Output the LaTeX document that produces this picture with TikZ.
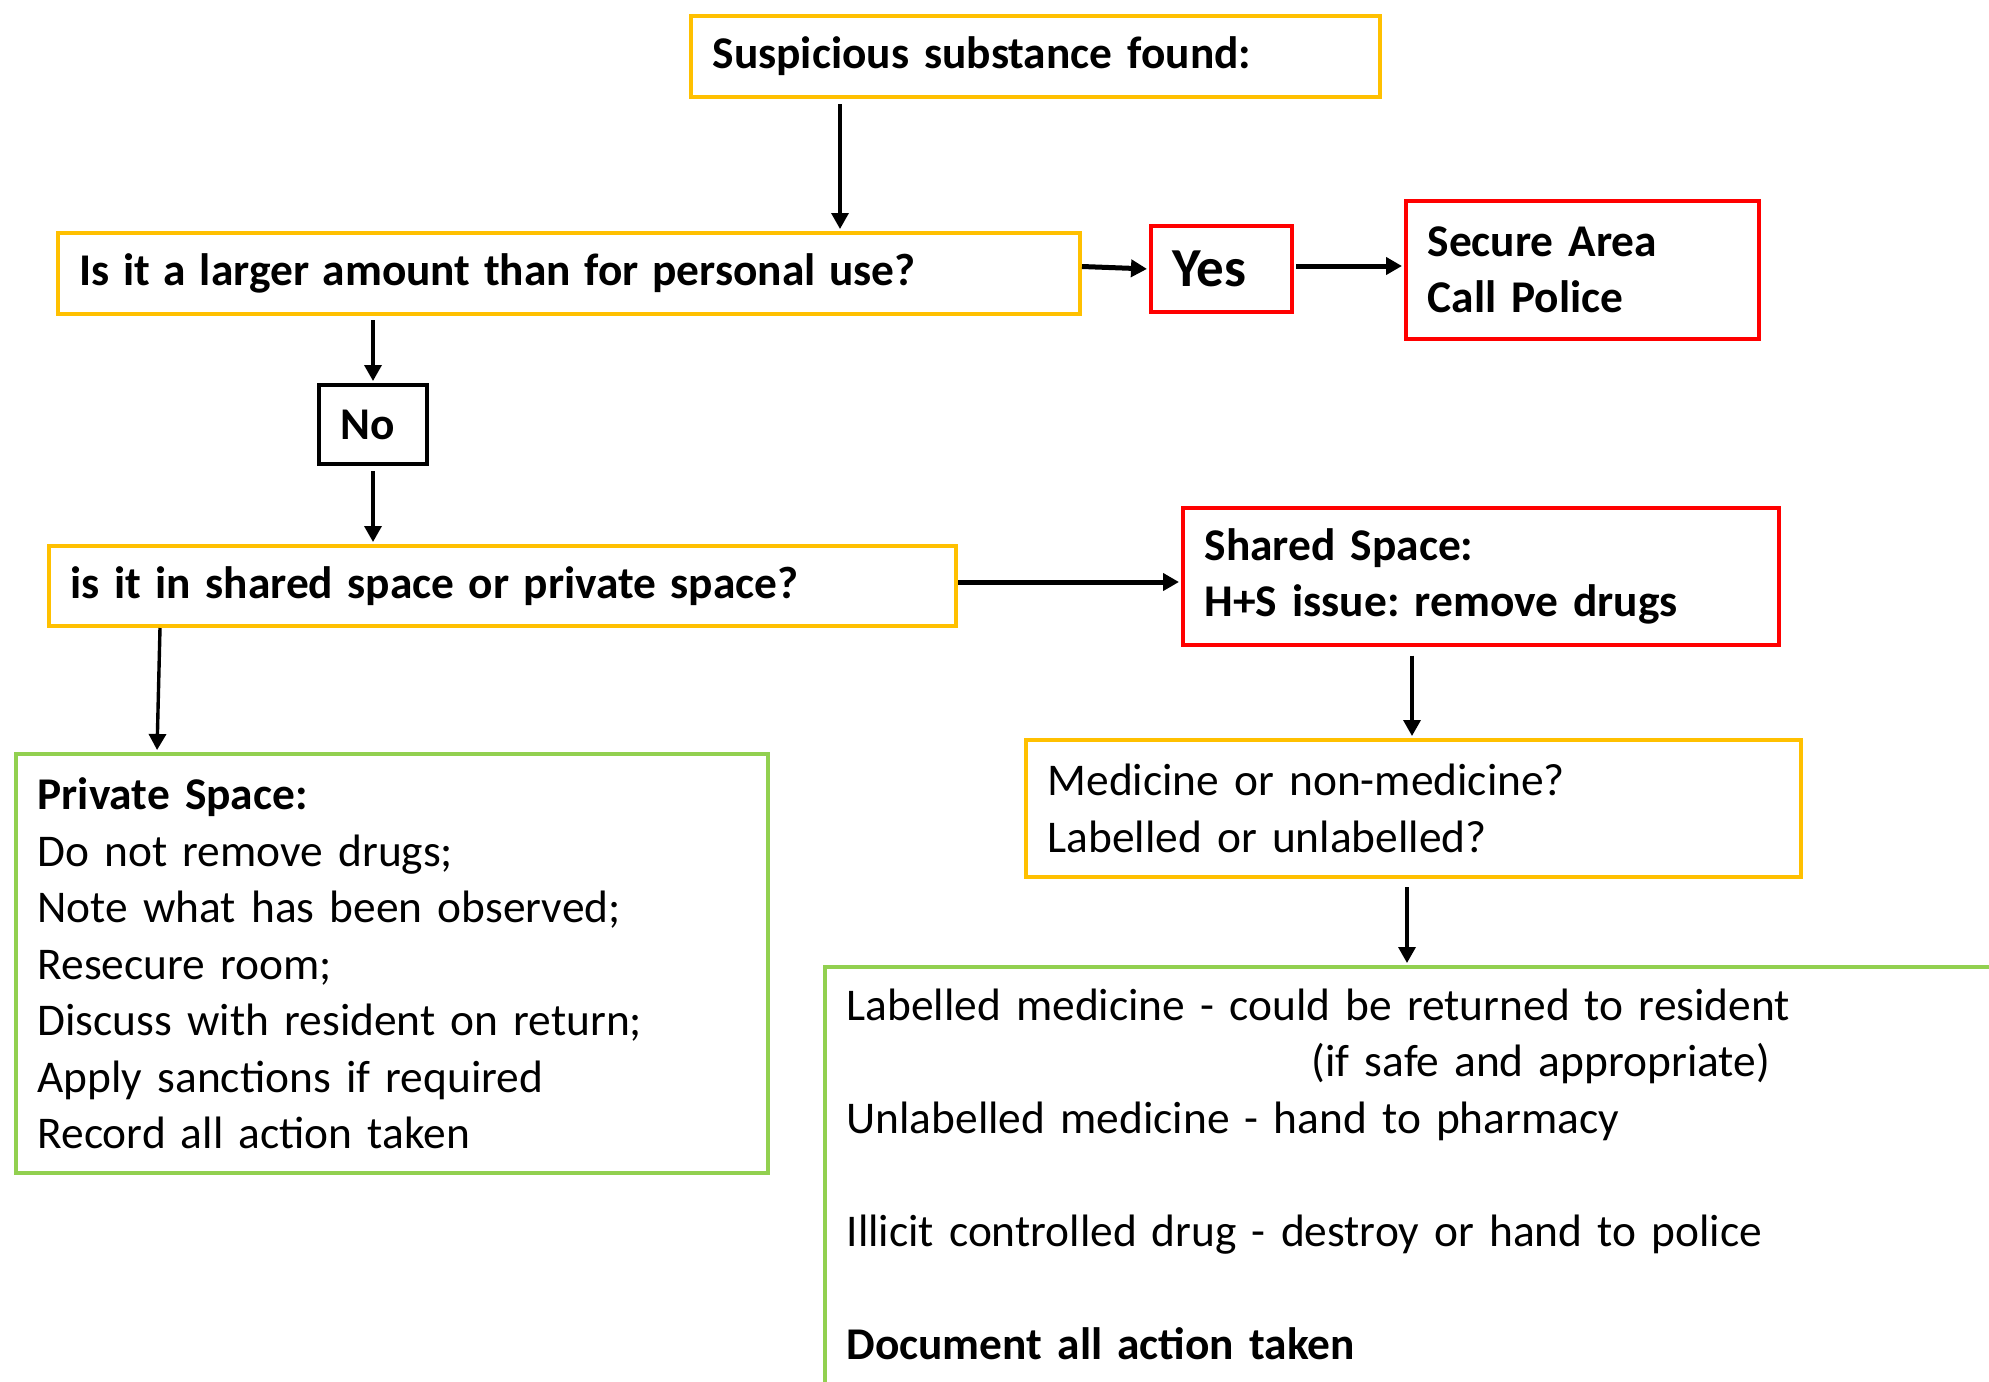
\documentclass[tikz,border=0pt]{standalone}
\usepackage{fontspec}
\setmainfont{Carlito}
\usetikzlibrary{arrows.meta,calc}
\definecolor{boxgold}{HTML}{FFC000}
\definecolor{boxred}{HTML}{FF0000}
\definecolor{boxgreen}{HTML}{92D050}
\begin{document}
\frenchspacing
\begin{tikzpicture}[
  x=1pt, y=1pt,
  box/.style={draw=#1, line width=2pt, anchor=north west, inner xsep=10.8pt,
    inner ysep=0pt, align=left, font=\fontsize{22.7}{28.25}\selectfont},
  size/.style 2 args={minimum width=#1, minimum height=#2, text width=#1-21.6pt},
  flow/.style={line width=1.7pt, shorten >=1pt, -{Triangle[length=8pt,width=8.5pt]}},
  flowthick/.style={flow, line width=2.5pt},
]
\useasboundingbox (0,0) rectangle (994.5,-690.5);

% decision and action boxes
\node[box=boxgold, size={344.5pt}{40.5pt}] (A) at (344.5,-7)
  {\bfseries Suspicious substance found:};
\node[box=boxgold, size={511pt}{40.5pt}] (B) at (28,-115.5)
  {\bfseries\spaceskip=6.8pt Is it a larger amount than for personal use?};
\node[box=boxred, size={70.5pt}{43pt}] (Yes) at (574.5,-112)
  {\fontsize{27.5}{30}\selectfont\bfseries Yes};
\node[box=boxred, size={176.5pt}{69pt}] (Secure) at (702,-99.5)
  {\bfseries Secure Area\\ \bfseries Call Police};
\node[box=black, size={54pt}{39.5pt}] (No) at (158.5,-191.5)
  {\bfseries No};
\node[box=boxgold, size={453.5pt}{40pt}] (C) at (23.5,-272)
  {\bfseries\spaceskip=7.2pt is it in shared space or private space?};
\node[box=boxred, size={298pt}{68.5pt}] (Shared) at (590.5,-253)
  {\bfseries Shared Space:\\ \bfseries H+S issue: remove drugs};
\node[box=boxgreen, size={376pt}{209.5pt}] (Private) at (7,-376)
  {\textbf{Private Space:}\\
   Do not remove drugs;\\
   Note what has been observed;\\
   Resecure room;\\
   Discuss with resident on return;\\
   Apply sanctions if required\\
   Record all action taken};
\node[box=boxgold, size={387.5pt}{68.5pt}] (Medicine) at (512,-369)
  {Medicine or non-medicine?\\ Labelled or unlabelled?};
\node[box=boxgreen, text width=600pt, inner ysep=9.5pt, text height=17pt,
      text depth=220pt] (D) at (411.5,-482.5)
  {Labelled medicine - could be returned to resident\\
   \hspace*{232.5pt}(if safe and appropriate)\\
   Unlabelled medicine - hand to pharmacy\\[28.25pt]
   Illicit controlled drug - destroy or hand to police\\[28.25pt]
   \textbf{Document all action taken}};

% connectors
\coordinate (xa) at (420,0);
\coordinate (xs) at (706,0);
\coordinate (xm) at (703.5,0);
\draw[flow, shorten <=2.5pt] (A.south -| xa) -- (B.north -| xa);
\draw[flowthick] ([yshift=3.5pt]B.east) -- (Yes.west);
\draw[flowthick, shorten <=1pt] ([yshift=1.5pt]Yes.east) -- ([yshift=1.5pt]Yes.east -| Secure.west);
\draw[flow, shorten <=2pt] (No.north |- B.south) -- (No.north);
\draw[flow, shorten <=2.5pt] (No.south) -- (No.south |- C.north);
\draw[flowthick] ([yshift=2pt]C.east) -- ([yshift=2pt]C.east -| Shared.west);
\draw[flow] ($(C.south west)+(56.5,0)$) -- ($(Private.north west)+(71.5,0)$);
\draw[flow, shorten <=4.3pt] (Shared.south -| xs) -- (Medicine.north -| xs);
\draw[flow, shorten <=4pt] (Medicine.south -| xm) -- (D.north -| xm);
\end{tikzpicture}
\end{document}
